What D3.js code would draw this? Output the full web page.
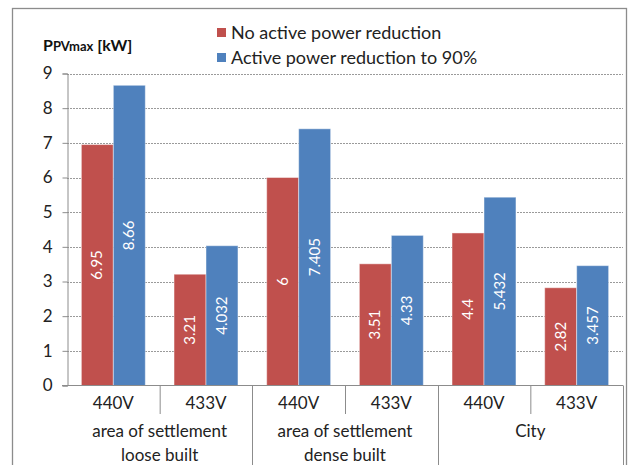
<!DOCTYPE html>
<html><head><meta charset="utf-8">
<script src="https://cdn.jsdelivr.net/npm/d3@7"></script>
<style>body{margin:0;background:#fff}svg{display:block}text{font-family:Lato,"Liberation Sans",Arial,sans-serif}</style>
</head><body>
<svg id="c" width="629" height="465"></svg>
<script>
const groups = ["area of settlement|loose built", "area of settlement|dense built", "City"];
const voltages = ["440V", "433V"];
const seriesNames = ["No active power reduction", "Active power reduction to 90%"];
const noReduction = [6.95, 3.21, 6, 3.51, 4.4, 2.82];
const reduction90 = [8.66, 4.032, 7.405, 4.33, 5.432, 3.457];
const labelsNo = ["6.95", "3.21", "6", "3.51", "4.4", "2.82"];
const labels90 = ["8.66", "4.032", "7.405", "4.33", "5.432", "3.457"];
const yTicks = [0,1,2,3,4,5,6,7,8,9];
const colors = ["#C0504D", "#4F81BD"];

const FS = 17;
const svg = d3.select("#c");
const L = 67, R = 623, T = 73.5, B = 385.5;
const cats = [];
groups.forEach((g,gi)=>voltages.forEach((v,vi)=>cats.push({g:gi,v,i:gi*2+vi})));
const x = d3.scaleBand().domain(cats.map(d=>d.i)).range([L,R]).paddingInner(0.31).paddingOuter(0.155);
const xc = d3.scaleBand().domain(cats.map(d=>d.i)).range([L,R]);
const xs = d3.scaleBand().domain([0,1]).range([0,x.bandwidth()]);
const y = d3.scaleLinear().domain([0,9]).range([B,T]);

// frame
svg.append("rect").attr("x",12.5).attr("y",8.5).attr("width",614).attr("height",470)
  .attr("fill","none").attr("stroke","#8c8c8c").attr("stroke-width",1.3);

// grid
svg.append("g").selectAll("line").data(yTicks.filter(t=>t>0)).join("line")
  .attr("x1",L).attr("x2",R).attr("y1",d=>Math.round(y(d))+0.5).attr("y2",d=>Math.round(y(d))+0.5)
  .attr("stroke","#9a9a9a").attr("stroke-dasharray","2,1").attr("stroke-width",1);

// y axis
const ya = svg.append("g").attr("transform",`translate(${L+0.5},0)`)
  .call(d3.axisLeft(y).tickValues(yTicks).tickSize(5).tickPadding(10).tickFormat(d3.format("d")));
ya.select(".domain").attr("stroke","#8c8c8c");
ya.selectAll(".tick line").attr("stroke","#8c8c8c");
ya.selectAll(".tick text").attr("font-size",FS).attr("fill","#222").style("font-family","Lato");

// bars
const data = cats.map((c,k)=>({c, vals:[noReduction[k], reduction90[k]], labs:[labelsNo[k], labels90[k]]}));
const bars = svg.append("g");
data.forEach(d=>{
  [0,1].forEach(s=>{
    const bx = x(d.c.i)+xs(s), bw = xs.bandwidth();
    bars.append("rect").attr("x",bx).attr("y",y(d.vals[s])).attr("width",bw).attr("height",y(0)-y(d.vals[s]))
      .attr("fill",colors[s]).attr("stroke","rgba(255,255,255,0.45)").attr("stroke-width",1);
    const cy = (y(0)+y(d.vals[s]))/2;
    bars.append("text").attr("transform",`translate(${bx+bw/2+5},${cy}) rotate(-90)`)
      .attr("text-anchor","middle").attr("font-size",15).attr("fill","#fff").text(d.labs[s]);
  });
});

// category axis
const ax = svg.append("g").attr("stroke","#8c8c8c").attr("stroke-width",1);
ax.append("line").attr("x1",L-5).attr("x2",R).attr("y1",B).attr("y2",B);
cats.forEach(c=>{
  if (c.i%2===1) ax.append("line").attr("x1",xc(c.i)+0.5).attr("x2",xc(c.i)+0.5).attr("y1",B).attr("y2",414);
});
groups.forEach((g,gi)=>{
  const xe = xc(gi*2+1)+xc.bandwidth();
  ax.append("line").attr("x1",Math.round(xe)+0.5).attr("x2",Math.round(xe)+0.5).attr("y1",B).attr("y2",470);
});
svg.append("g").selectAll("text").data(cats).join("text")
  .attr("x",d=>xc(d.i)+xc.bandwidth()/2).attr("y",409).attr("text-anchor","middle")
  .attr("font-size",FS).attr("fill","#222").text(d=>d.v);
groups.forEach((g,gi)=>{
  const cx = xc(gi*2)+xc.bandwidth();
  g.split("|").forEach((line,li)=>{
    svg.append("text").attr("x",cx).attr("y",437+li*24).attr("text-anchor","middle")
      .attr("font-size",FS).attr("fill","#222").text(line);
  });
});

// title
const t = svg.append("text").attr("x",43).attr("y",51).attr("font-weight","bold").attr("fill","#111");
t.append("tspan").attr("font-size",16).text("P");
t.append("tspan").attr("font-size",13).text("PVmax");
t.append("tspan").attr("font-size",16).text(" [kW]");

// legend
seriesNames.forEach((n,i)=>{
  svg.append("rect").attr("x",217).attr("y",28+i*25).attr("width",9).attr("height",9).attr("fill",colors[i]);
  svg.append("text").attr("x",231).attr("y",39+i*25).attr("font-size",18).attr("fill","#222").text(n);
});
</script>
</body></html>
